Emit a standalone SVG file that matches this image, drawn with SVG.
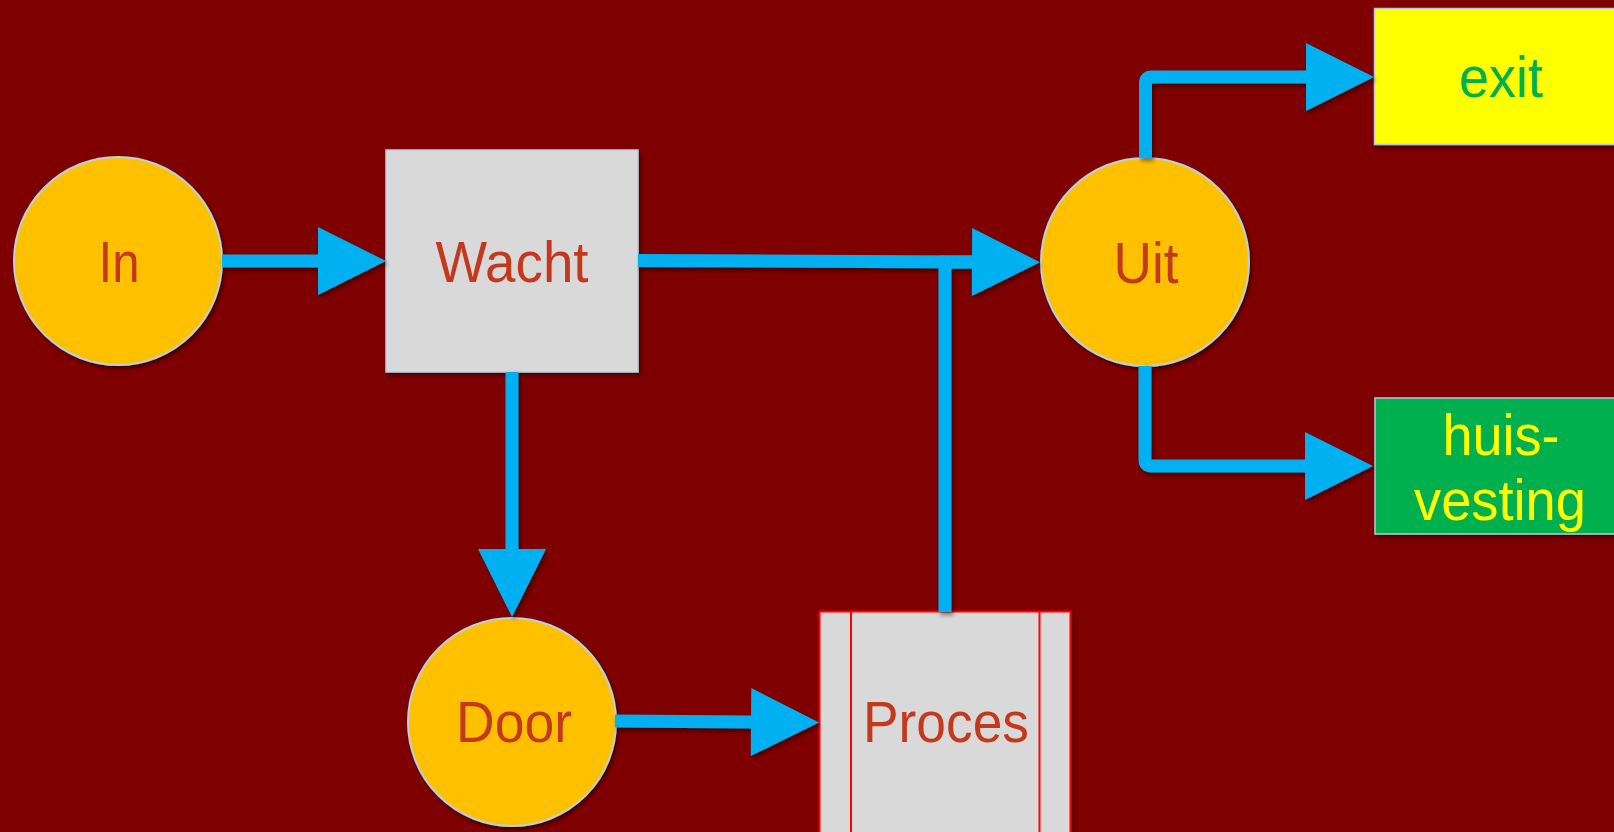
<svg xmlns="http://www.w3.org/2000/svg" width="1614" height="832" viewBox="0 0 1614 832">
  <defs>
    <style>
      .circle { fill: #ffc000; stroke: #b8d0e4; stroke-width: 2; }
      .lbl { font-family: "Liberation Sans", Arial, sans-serif; font-size: 57px; text-anchor: middle; }
      .red { fill: #c4391d; }
      .conn { fill: none; stroke: #00b0f0; stroke-width: 13; }
      .head { fill: #00b0f0; }
    </style>
    <filter id="sh" x="-20%" y="-20%" width="140%" height="140%">
      <feDropShadow dx="2" dy="3" stdDeviation="2" flood-color="#000" flood-opacity="0.45"/>
    </filter>
    <marker id="arr" markerUnits="userSpaceOnUse" markerWidth="70" markerHeight="70" refX="0" refY="34" orient="auto" overflow="visible">
      <path d="M0,0 L68,34 L0,68 Z" class="head"/>
    </marker>
  </defs>

  <rect x="0" y="0" width="1614" height="832" fill="#7f0000"/>

  <g id="nodes" filter="url(#sh)">
    <g id="node-in">
      <circle class="circle" cx="118" cy="261" r="104"/>
      <text class="lbl red" x="119" y="282" textLength="41" lengthAdjust="spacingAndGlyphs">In</text>
    </g>
    <g id="node-wacht">
      <rect x="386" y="150" width="252" height="222" fill="#d9d9d9" stroke="#b8d0e4" stroke-width="1.5"/>
      <text class="lbl red" x="512" y="282" textLength="153" lengthAdjust="spacingAndGlyphs">Wacht</text>
    </g>
    <g id="node-uit">
      <circle class="circle" cx="1145" cy="262" r="104"/>
      <text class="lbl red" x="1146" y="283" textLength="65" lengthAdjust="spacingAndGlyphs">Uit</text>
    </g>
    <g id="node-door">
      <circle class="circle" cx="512" cy="722" r="104"/>
      <text class="lbl red" x="514" y="742" textLength="116" lengthAdjust="spacingAndGlyphs">Door</text>
    </g>
    <g id="node-proces">
      <rect x="819.5" y="611.5" width="251" height="250" fill="#d9d9d9" stroke="#ff0000" stroke-width="2"/>
      <line x1="851" y1="611.5" x2="851" y2="840" stroke="#ff0000" stroke-width="2"/>
      <line x1="1039.5" y1="611.5" x2="1039.5" y2="840" stroke="#ff0000" stroke-width="2"/>
      <text class="lbl red" x="946" y="742" textLength="166" lengthAdjust="spacingAndGlyphs">Proces</text>
    </g>
    <g id="node-exit">
      <rect x="1374.5" y="8.5" width="260" height="136" fill="#ffff00" stroke="#b8c8d8" stroke-width="1.5"/>
      <text class="lbl" x="1501" y="97" fill="#00b050" textLength="84" lengthAdjust="spacingAndGlyphs">exit</text>
    </g>
    <g id="node-huisvesting">
      <rect x="1375" y="398" width="260" height="136" fill="#00b050" stroke="#b8c8d8" stroke-width="1.5"/>
      <text class="lbl" fill="#ffff00" x="1501" y="455" textLength="117" lengthAdjust="spacingAndGlyphs">huis-</text>
      <text class="lbl" fill="#ffff00" x="1500" y="520" textLength="172" lengthAdjust="spacingAndGlyphs">vesting</text>
    </g>
  </g>

  <g id="connectors" filter="url(#sh)">
    <line class="conn" x1="222" y1="261" x2="318" y2="261" marker-end="url(#arr)"/>
    <line class="conn" x1="638" y1="260.5" x2="972" y2="262" marker-end="url(#arr)"/>
    <path class="conn" d="M945,612 V262 H973" stroke-linejoin="miter"/>
    <line class="conn" x1="512" y1="372" x2="512" y2="549" marker-end="url(#arr)"/>
    <line class="conn" x1="615" y1="721" x2="751" y2="722" marker-end="url(#arr)"/>
    <path class="conn" d="M1145.5,158 V83 Q1145.5,77 1151.5,77 H1306" marker-end="url(#arr)"/>
    <path class="conn" d="M1145,366 V460 Q1145,466 1151,466 H1305" marker-end="url(#arr)"/>
  </g>
</svg>
